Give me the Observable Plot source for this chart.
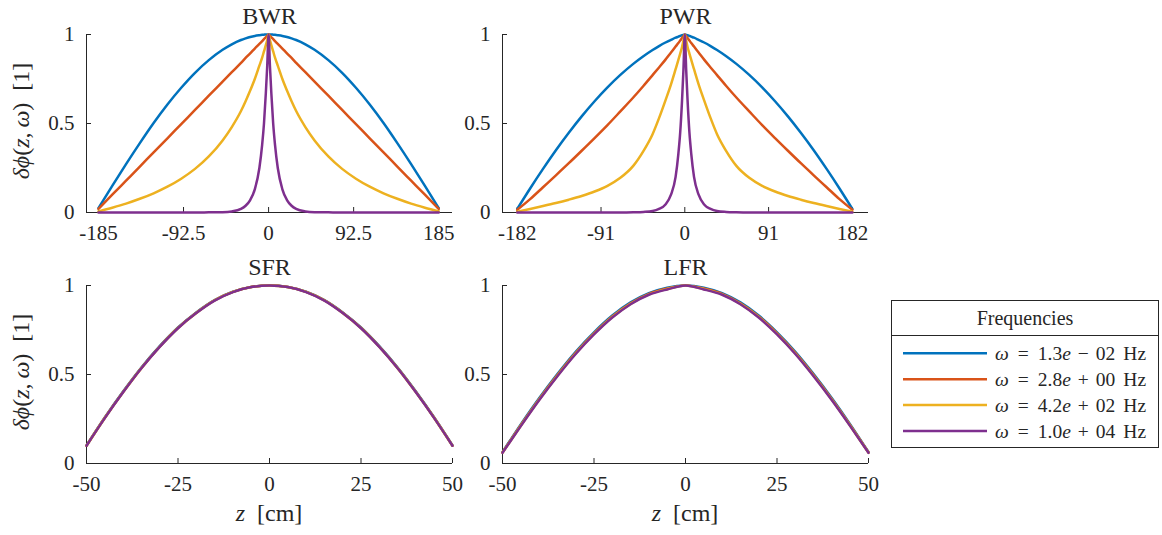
<!DOCTYPE html>
<html>
<head>
<meta charset="utf-8">
<script src="https://cdn.jsdelivr.net/npm/d3@7"></script>
<script src="https://cdn.jsdelivr.net/npm/@observablehq/plot@0.6"></script>
<style>
  html, body { margin: 0; padding: 0; background: #ffffff; }
  #wrap { position: relative; width: 1162px; height: 535px; overflow: hidden; background: #ffffff; font-family: "Liberation Serif", serif; }
  #wrap svg { position: absolute; }
</style>
</head>
<body>
<div id="wrap"></div>
<script>
// ---------- data ----------
const seriesNames = ["ω = 1.3e − 02 Hz", "ω = 2.8e + 00 Hz", "ω = 4.2e + 02 Hz", "ω = 1.0e + 04 Hz"];
const legendMantissa = ["1.3", "2.8", "4.2", "1.0"];
const legendSign = ["−", "+", "+", "+"];
const legendExponent = ["02", "00", "02", "04"];
const seriesColors = ["#0072BD", "#D95319", "#EDB120", "#7E2F8E"];

const panelTitles = ["BWR", "PWR", "SFR", "LFR"];
const yTicks = [0, 0.5, 1];
const yTickLabels = ["0", "0.5", "1"];

const bwrTicks = [-185, -92.5, 0, 92.5, 185];
const bwrTickLabels = ["-185", "-92.5", "0", "92.5", "185"];
const pwrTicks = [-182, -91, 0, 91, 182];
const pwrTickLabels = ["-182", "-91", "0", "91", "182"];
const cmTicks = [-50, -25, 0, 25, 50];
const cmTickLabels = ["-50", "-25", "0", "25", "50"];

// BWR
const zBWR = [-185,-170,-155,-140,-125,-110,-95,-80,-65,-50,-40,-30,-25,-20,-15,-10,-7,-5,-3,-1.5,0,1.5,3,5,7,10,15,20,25,30,40,50,65,80,95,110,125,140,155,170,185];
const bwrBlue = [0.025,0.15,0.272,0.39,0.503,0.607,0.701,0.785,0.856,0.914,0.945,0.969,0.978,0.986,0.992,0.996,0.998,0.999,1,1,1,1,1,0.999,0.998,0.996,0.992,0.986,0.978,0.969,0.945,0.914,0.856,0.785,0.701,0.607,0.503,0.39,0.272,0.15,0.025];
const bwrRed = [0.02,0.1,0.179,0.258,0.338,0.417,0.497,0.576,0.656,0.735,0.788,0.841,0.868,0.894,0.921,0.947,0.963,0.974,0.984,0.992,1,0.992,0.984,0.974,0.963,0.947,0.921,0.894,0.868,0.841,0.788,0.735,0.656,0.576,0.497,0.417,0.338,0.258,0.179,0.1,0.02];
const bwrYellow = [0.006,0.027,0.05,0.077,0.108,0.145,0.19,0.245,0.315,0.405,0.48,0.57,0.625,0.685,0.75,0.825,0.87,0.905,0.94,0.968,1,0.968,0.94,0.905,0.87,0.825,0.75,0.685,0.625,0.57,0.48,0.405,0.315,0.245,0.19,0.145,0.108,0.077,0.05,0.027,0.006];
const bwrPurple = [0,0,0,0,0,0,0,0,0.001,0.002,0.006,0.02,0.038,0.07,0.13,0.25,0.38,0.5,0.67,0.82,1,0.82,0.67,0.5,0.38,0.25,0.13,0.07,0.038,0.02,0.006,0.002,0.001,0,0,0,0,0,0,0,0];

// PWR
const zPWR = [-182,-168,-154,-140,-126,-112,-98,-84,-70,-56,-45,-35,-28,-21,-15,-10,-7,-5,-3,-1.5,0,1.5,3,5,7,10,15,21,28,35,45,56,70,84,98,112,126,140,154,168,182];
const pwrBlue = [0.02,0.135,0.245,0.35,0.448,0.54,0.625,0.703,0.773,0.835,0.878,0.913,0.935,0.955,0.97,0.982,0.988,0.992,0.996,0.998,1,0.998,0.996,0.992,0.988,0.982,0.97,0.955,0.935,0.913,0.878,0.835,0.773,0.703,0.625,0.54,0.448,0.35,0.245,0.135,0.02];
const pwrRed = [0.015,0.075,0.142,0.209,0.277,0.347,0.418,0.491,0.568,0.646,0.711,0.772,0.815,0.859,0.899,0.932,0.952,0.966,0.98,0.99,1,0.99,0.98,0.966,0.952,0.932,0.899,0.859,0.815,0.772,0.711,0.646,0.568,0.491,0.418,0.347,0.277,0.209,0.142,0.075,0.015];
const pwrYellow = [0.005,0.02,0.036,0.053,0.072,0.093,0.118,0.15,0.195,0.262,0.345,0.44,0.53,0.63,0.72,0.805,0.857,0.893,0.93,0.965,1,0.965,0.93,0.893,0.857,0.805,0.72,0.63,0.53,0.44,0.345,0.262,0.195,0.15,0.118,0.093,0.072,0.053,0.036,0.02,0.005];
const pwrPurple = [0,0,0,0,0,0,0,0,0,0.001,0.003,0.008,0.02,0.045,0.1,0.2,0.33,0.45,0.63,0.8,1,0.8,0.63,0.45,0.33,0.2,0.1,0.045,0.02,0.008,0.003,0.001,0,0,0,0,0,0,0,0,0];

// SFR
const zSFR = [-50,-45,-40,-35,-30,-25,-20,-15,-10,-5,0,5,10,15,20,25,30,35,40,45,50];
const sfrBlue = [0.101,0.258,0.404,0.539,0.659,0.764,0.849,0.918,0.965,0.992,1,0.992,0.965,0.918,0.849,0.764,0.659,0.539,0.404,0.258,0.101];
const sfrRed = [0.1,0.257,0.402,0.537,0.657,0.762,0.847,0.917,0.964,0.992,1,0.992,0.964,0.917,0.847,0.762,0.657,0.537,0.402,0.257,0.1];
const sfrYellow = [0.1,0.256,0.401,0.536,0.656,0.761,0.846,0.916,0.964,0.991,1,0.991,0.964,0.916,0.846,0.761,0.656,0.536,0.401,0.256,0.1];
const sfrPurple = [0.1,0.255,0.4,0.535,0.655,0.76,0.845,0.915,0.963,0.991,1,0.991,0.963,0.915,0.845,0.76,0.655,0.535,0.4,0.255,0.1];

// LFR
const zLFR = [-50,-45,-40,-35,-30,-25,-20,-15,-10,-5,0,5,10,15,20,25,30,35,40,45,50];
const lfrBlue = [0.064,0.22,0.367,0.503,0.628,0.737,0.831,0.905,0.957,0.988,1,0.988,0.957,0.905,0.831,0.737,0.628,0.503,0.367,0.22,0.064];
const lfrRed = [0.062,0.215,0.361,0.497,0.622,0.731,0.826,0.9,0.953,0.983,1,0.983,0.953,0.9,0.826,0.731,0.622,0.497,0.361,0.215,0.062];
const lfrYellow = [0.061,0.212,0.358,0.493,0.618,0.728,0.823,0.897,0.95,0.98,1,0.98,0.95,0.897,0.823,0.728,0.618,0.493,0.358,0.212,0.061];
const lfrPurple = [0.06,0.21,0.355,0.49,0.615,0.725,0.82,0.895,0.948,0.978,1,0.978,0.948,0.895,0.82,0.725,0.615,0.49,0.355,0.21,0.06];

// ---------- drawing ----------
const FONT = "Liberation Serif";
const INK = "#262626";
const wrap = document.getElementById("wrap");

function makePanel(cfg) {
  const W = 366, H = 178, mL = 86, mR = 14, mT = 34;
  const mB = cfg.xLabel ? 72 : 38;
  const data = [];
  cfg.vals.forEach((arr, i) => arr.forEach((v, j) => data.push({z: cfg.z[j], v, s: seriesNames[i]})));
  const svg = Plot.plot({
    width: mL + W + mR,
    height: mT + H + mB,
    marginLeft: mL, marginRight: mR, marginTop: mT, marginBottom: mB,
    style: {fontFamily: FONT, fontSize: "21px", color: INK, background: "transparent", overflow: "visible"},
    x: {domain: cfg.domain, ticks: cfg.ticks, tickFormat: d => cfg.tickLabels[cfg.ticks.indexOf(d)], tickSize: 0, tickPadding: 13, label: null},
    y: {domain: [0, 1], ticks: yTicks, tickFormat: d => yTickLabels[yTicks.indexOf(d)], tickSize: 0, tickPadding: 12, label: null},
    color: {domain: seriesNames, range: seriesColors},
    marks: [
      Plot.ruleY([0], {stroke: INK, strokeWidth: 1}),
      Plot.ruleX([cfg.domain[0]], {stroke: INK, strokeWidth: 1}),
      Plot.tickX(cfg.ticks, {x: d => d, insetTop: H - 5, stroke: INK, strokeWidth: 1}),
      Plot.tickY(yTicks, {y: d => d, insetRight: W - 5, stroke: INK, strokeWidth: 1}),
      Plot.line(data, {x: "z", y: "v", z: "s", stroke: "s", strokeWidth: 2.5, curve: "monotone-x"}),
      Plot.text([cfg.title], {text: d => d, frameAnchor: "top", lineAnchor: "bottom", dy: -11, fontSize: 24, fill: INK})
    ]
  });
  svg.style.position = "absolute";
  svg.style.left = cfg.left + "px";
  svg.style.top = cfg.top + "px";
  const sel = d3.select(svg);
  if (cfg.yLabel) {
    const t = sel.append("text")
      .attr("transform", `translate(21,${mT + H / 2 - 2}) rotate(-90)`)
      .attr("text-anchor", "middle").attr("dy", "0.32em")
      .attr("font-size", 24).attr("fill", INK).attr("font-family", FONT);
    t.append("tspan").attr("font-style", "italic").text("δϕ");
    t.append("tspan").text("(");
    t.append("tspan").attr("font-style", "italic").text("z");
    t.append("tspan").text(",\u2009");
    t.append("tspan").attr("font-style", "italic").text("ω");
    t.append("tspan").text(")\u00A0\u00A0[1]");
  }
  if (cfg.xLabel) {
    const t = sel.append("text")
      .attr("transform", `translate(${mL + W / 2},${mT + H + 58})`)
      .attr("text-anchor", "middle")
      .attr("font-size", 24).attr("fill", INK).attr("font-family", FONT);
    t.append("tspan").attr("font-style", "italic").text("z");
    t.append("tspan").text("\u00A0\u00A0[cm]");
  }
  wrap.appendChild(svg);
}

makePanel({title: panelTitles[0], z: zBWR, vals: [bwrBlue, bwrRed, bwrYellow, bwrPurple], domain: [-198, 200], ticks: bwrTicks, tickLabels: bwrTickLabels, left: 0, top: 0, yLabel: true, xLabel: false});
makePanel({title: panelTitles[1], z: zPWR, vals: [pwrBlue, pwrRed, pwrYellow, pwrPurple], domain: [-198, 199.5], ticks: pwrTicks, tickLabels: pwrTickLabels, left: 416, top: 0, yLabel: false, xLabel: false});
makePanel({title: panelTitles[2], z: zSFR, vals: [sfrBlue, sfrRed, sfrYellow, sfrPurple], domain: [-50, 50], ticks: cmTicks, tickLabels: cmTickLabels, left: 0, top: 251, yLabel: true, xLabel: true});
makePanel({title: panelTitles[3], z: zLFR, vals: [lfrBlue, lfrRed, lfrYellow, lfrPurple], domain: [-50, 50], ticks: cmTicks, tickLabels: cmTickLabels, left: 416, top: 251, yLabel: false, xLabel: true});

// ---------- legend ----------
const lg = d3.select(wrap).append("svg")
  .attr("width", 270).attr("height", 150)
  .style("left", "890px").style("top", "300px")
  .attr("font-family", FONT).attr("fill", INK);
lg.append("rect").attr("x", 1.5).attr("y", 0.5).attr("width", 267).attr("height", 147)
  .attr("fill", "#ffffff").attr("stroke", INK).attr("stroke-width", 1);
lg.append("line").attr("x1", 1.5).attr("x2", 268.5).attr("y1", 35.5).attr("y2", 35.5).attr("stroke", INK);
lg.append("text").attr("x", 135).attr("y", 17.5).attr("dy", "0.35em").attr("text-anchor", "middle")
  .attr("font-size", 20).text("Frequencies");
seriesNames.forEach((name, i) => {
  const y = 53.3 + 25.9 * i;
  lg.append("line").attr("x1", 13).attr("x2", 97).attr("y1", y).attr("y2", y)
    .attr("stroke", seriesColors[i]).attr("stroke-width", 2.5);
  const t = lg.append("text").attr("x", 105).attr("y", y).attr("dy", "0.35em").attr("font-size", 19.5);
  t.append("tspan").attr("font-style", "italic").text("ω");
  t.append("tspan").attr("dx", 9).text("=");
  t.append("tspan").attr("dx", 9).text(legendMantissa[i]);
  t.append("tspan").attr("font-style", "italic").text("e");
  t.append("tspan").attr("dx", 7).text(legendSign[i]);
  t.append("tspan").attr("dx", 7).text(legendExponent[i]);
  t.append("tspan").attr("dx", 8).text("Hz");
});
</script>
</body>
</html>
